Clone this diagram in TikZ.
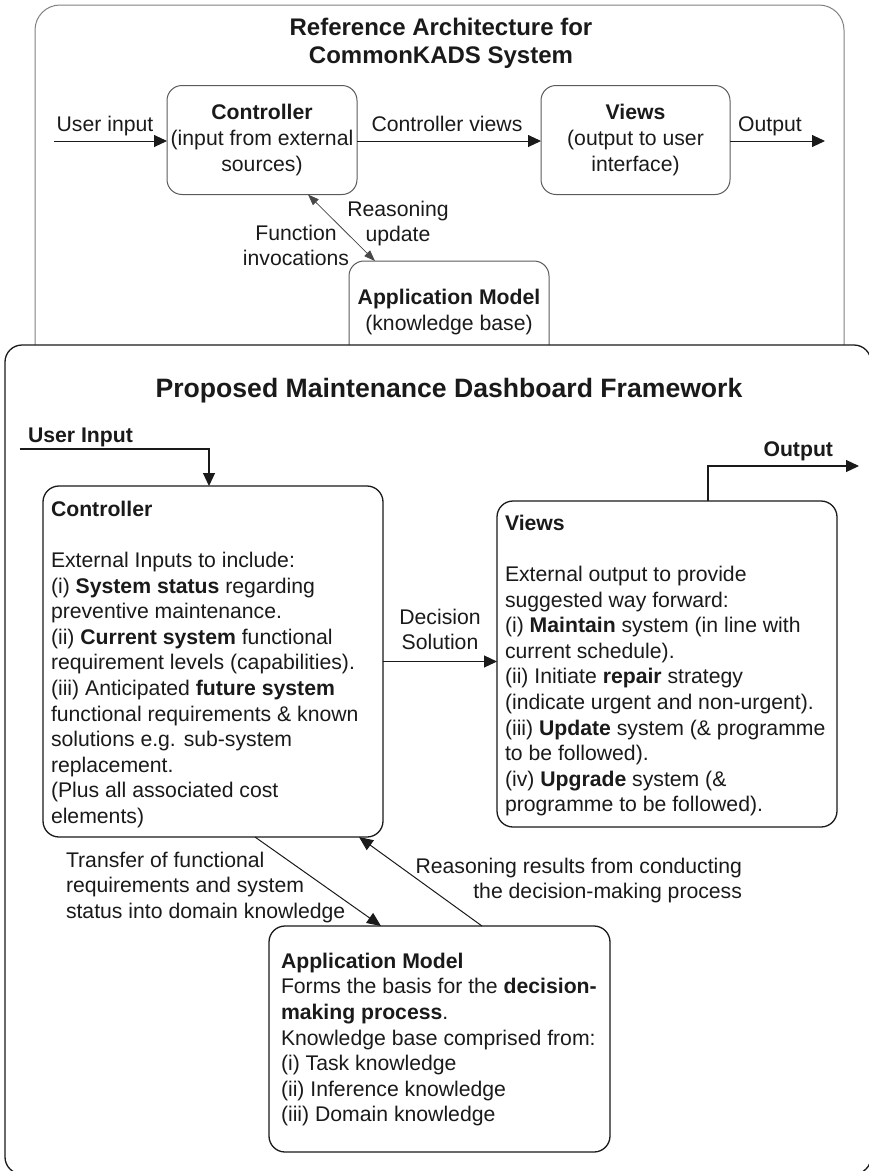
\documentclass[tikz,border=0pt]{standalone}
\usepackage{fontspec}
\setmainfont{Liberation Sans}
\usetikzlibrary{arrows.meta}
\definecolor{ink}{HTML}{1A1A1A}
\definecolor{oldline}{HTML}{808080}
\definecolor{oldbox}{HTML}{5A5A5A}
\begin{document}
\begin{tikzpicture}[x=1pt,y=-1pt,
  every node/.style={inner sep=0pt,outer sep=0pt,text=ink},
  body/.style={font=\fontsize{21.2}{25.6}\selectfont},
  oldframe/.style={draw=oldline,line width=1pt,rounded corners=25pt},
  newframe/.style={draw=ink,fill=white,line width=1.3pt,rounded corners=17pt},
  oldunit/.style={draw=oldbox,line width=1pt,rounded corners=15pt,align=center,body},
  newunit/.style={draw=ink,line width=1.3pt,rounded corners=16pt},
  unittext/.style={body,align=left,anchor=north west},
  lbl/.style={body},
  oldarrow/.style={draw=ink,line width=0.9pt,-{Triangle[length=13pt,width=12pt]}},
  newarrow/.style={draw=ink,line width=1.2pt,-{Triangle[length=13pt,width=12pt]}},
  thinarrow/.style={draw=ink!80,line width=0.8pt,{Triangle[length=11pt,width=8pt]}-{Triangle[length=11pt,width=8pt]}},
  slantarrow/.style={draw=ink,line width=1pt,-{Triangle[length=14pt,width=12pt]}}]
\useasboundingbox (0,0) rectangle (869,1171);
\clip (0,0) rectangle (869,1171);

% ---------- reference architecture (upper frame) ----------
\draw[oldframe] (35,5) rectangle (844,430);
\node[font=\fontsize{24}{28}\selectfont\bfseries,align=center,anchor=north] (oldtitle) at (441,18.6)
  {Reference Architecture for\\CommonKADS System};

\node[oldunit,minimum width=190pt,minimum height=109pt] (ctop) at (262,140)
  {\textbf{Controller}\\(input from external\\sources)};
\node[oldunit,minimum width=189pt,minimum height=109pt] (vtop) at (635.5,140)
  {\textbf{Views}\\(output to user\\interface)};
\node[oldunit,minimum width=200pt,minimum height=102pt] (amtop) at (449,312)
  {\textbf{Application Model}\\(knowledge base)};

\coordinate (uintop) at (54,141);
\coordinate (outtop) at (825,141);
\draw[oldarrow] (uintop) -- (ctop.west |- uintop);
\draw[oldarrow] (ctop.east |- uintop) -- (vtop.west |- uintop);
\draw[oldarrow] (vtop.east |- uintop) -- (outtop);
\node[lbl,anchor=base] (luin) at (105,131) {User input};
\node[lbl,anchor=base] (lcv) at (447,131) {Controller views};
\node[lbl,anchor=base] (lout) at (770,131) {Output};

\draw[thinarrow] ([xshift=46pt]ctop.south) -- ([xshift=-74pt]amtop.north);
\node[lbl,align=center,anchor=north] (lreason) at (398,200.7) {Reasoning\\update};
\node[lbl,align=center,anchor=north] (lfunc) at (296,224.7) {Function\\invocations};

% ---------- proposed dashboard framework (lower frame) ----------
\draw[newframe] (5,345) rectangle (871,1174);
\node[font=\fontsize{26.6}{30}\selectfont\bfseries,anchor=base] (newtitle) at (449,397)
  {Proposed Maintenance Dashboard Framework};

\node[newunit,minimum width=340pt,minimum height=351pt] (ctrl) at (213,661.5) {};
\node[unittext] (ctrltext) at (51,501)
  {\textbf{Controller}\\[25.6pt]
   External Inputs to include:\\
   (i) \textbf{System status} regarding\\
   preventive maintenance.\\
   (ii) \textbf{Current system} functional\\
   requirement levels (capabilities).\\
   (iii) Anticipated \textbf{future system}\\
   functional requirements \& known\\
   solutions e.g. sub-system\\
   replacement.\\
   (Plus all associated cost\\
   elements)};

\node[newunit,minimum width=340pt,minimum height=326pt] (views) at (667,664) {};
\node[unittext] (viewstext) at (505,515)
  {\textbf{Views}\\[25.6pt]
   External output to provide\\
   suggested way forward:\\
   (i) \textbf{Maintain} system (in line with\\
   current schedule).\\
   (ii) Initiate \textbf{repair} strategy\\
   (indicate urgent and non-urgent).\\
   (iii) \textbf{Update} system (\& programme\\
   to be followed).\\
   (iv) \textbf{Upgrade} system (\&\\
   programme to be followed).};

\node[newunit,minimum width=341pt,minimum height=226pt] (am) at (439.5,1039) {};
\node[unittext] (amtext) at (281,953)
  {\textbf{Application Model}\\
   Forms the basis for the \textbf{decision-}\\
   \textbf{making process}.\\
   Knowledge base comprised from:\\
   (i) Task knowledge\\
   (ii) Inference knowledge\\
   (iii) Domain knowledge};

% user input enters the controller from above
\coordinate (uin) at (20,449);
\node[lbl,font=\fontsize{21.2}{25.6}\selectfont\bfseries,anchor=base west] (luinnew) at (28,442) {User Input};
\draw[newarrow] (uin) -| ([xshift=-4pt]ctrl.north);

% output leaves the views box upwards, then to the right
\coordinate (out) at (859,466);
\node[lbl,font=\fontsize{21.2}{25.6}\selectfont\bfseries,anchor=base east] (loutnew) at (833,456) {Output};
\draw[newarrow] ([xshift=41pt]views.north) |- (out);

% decision solution
\draw[newarrow] (ctrl.east) -- (ctrl.east -| views.west);
\node[lbl,align=center,anchor=north] (ldec) at (440,608.8) {Decision\\Solution};

% exchanges with the application model
\draw[slantarrow] ([xshift=42pt]ctrl.south) -- ([xshift=-58.5pt]am.north);
\draw[slantarrow] ([xshift=42.5pt]am.north) -- ([xshift=146pt]ctrl.south);
\node[lbl,align=left,anchor=north west] (ltransfer) at (66,851.7)
  {Transfer of functional\\requirements and system\\status into domain knowledge};
\node[lbl,align=right,anchor=north east] (lresults) at (742,857.7)
  {Reasoning results from conducting\\the decision-making process};
\end{tikzpicture}
\end{document}
